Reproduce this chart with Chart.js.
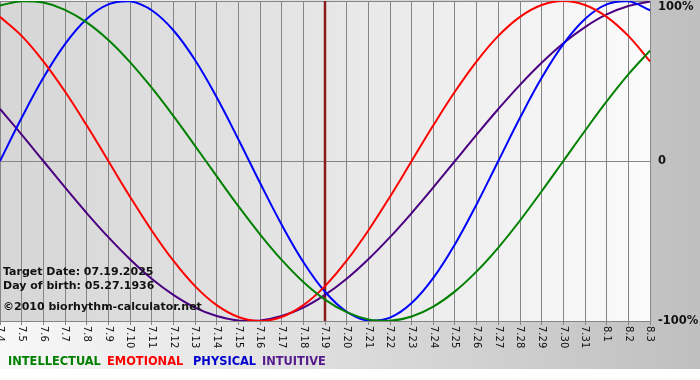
<!DOCTYPE html>
<html>
<head>
<meta charset="utf-8">
<script src="https://cdn.jsdelivr.net/npm/chart.js@4/dist/chart.umd.min.js"></script>
<style>
  html, body { margin: 0; padding: 0; background: #ffffff; }
  #wrap { width: 700px; height: 380px; position: relative; }
</style>
</head>
<body>
<div id="wrap"><canvas id="c" width="700" height="380"></canvas></div>
<script>
// ---- data ----
const dayLabels = ["7.4","7.5","7.6","7.7","7.8","7.9","7.10","7.11","7.12","7.13","7.14","7.15","7.16","7.17","7.18","7.19","7.20","7.21","7.22","7.23","7.24","7.25","7.26","7.27","7.28","7.29","7.30","7.31","8.1","8.2","8.3"];
const intellectual = [97.2, 99.9, 99.0, 94.5, 86.6, 75.6, 61.8, 45.8, 28.2, 9.5, -9.5, -28.2, -45.8, -61.8, -75.6, -86.6, -94.5, -99.0, -99.9, -97.2, -91.0, -81.5, -69.0, -54.1, -37.2, -18.9, 0, 18.9, 37.2, 54.1, 69.0];
const emotional = [90.1, 78.2, 62.3, 43.4, 22.3, 0, -22.3, -43.4, -62.3, -78.2, -90.1, -97.5, -100, -97.5, -90.1, -78.2, -62.3, -43.4, -22.3, 0, 22.3, 43.4, 62.3, 78.2, 90.1, 97.5, 100, 97.5, 90.1, 78.2, 62.3];
const physical = [0, 27.0, 52.0, 73.1, 88.8, 97.9, 99.8, 94.2, 81.7, 63.1, 39.8, 13.6, -13.6, -39.8, -63.1, -81.7, -94.2, -99.8, -97.9, -88.8, -73.1, -52.0, -27.0, 0, 27.0, 52.0, 73.1, 88.8, 97.9, 99.8, 94.2];
const intuitive = [32.5, 16.5, 0, -16.5, -32.5, -47.6, -61.4, -73.6, -83.7, -91.6, -96.9, -99.7, -99.7, -96.9, -91.6, -83.7, -73.6, -61.4, -47.6, -32.5, -16.5, 0, 16.5, 32.5, 47.6, 61.4, 73.6, 83.7, 91.6, 96.9, 99.7];
const seriesNames = ["INTELLECTUAL", "EMOTIONAL", "PHYSICAL", "INTUITIVE"];
const yTickValues = [100, 0, -100];
const yTickLabels = ["100%", "0", "-100%"];
const targetLabel = "7.19";
const infoLines = ["Target Date: 07.19.2025", "Day of birth: 05.27.1936", "\u00A92010 biorhythm-calculator.net"];

const colors = ["#008000", "#ff0000", "#0000ff", "#4b0082"];
const legendColors = ["#008000", "#ff0000", "#0000cc", "#551a8b"];
const legendX = [8, 107, 193, 262];

const bgPlugin = {
  id: 'bg',
  beforeDraw(chart) {
    const ctx = chart.ctx, a = chart.chartArea;
    ctx.save();
    ctx.fillStyle = '#ffffff';
    ctx.fillRect(0, 0, chart.width, chart.height);
    let g = ctx.createLinearGradient(0, 0, chart.width, 0);
    g.addColorStop(0, '#f8f8f8');
    g.addColorStop(1, '#bfbfbf');
    ctx.fillStyle = g;
    ctx.fillRect(0, 0, chart.width, 369);
    g = ctx.createLinearGradient(a.left, 0, a.right, 0);
    g.addColorStop(0, '#d6d6d6');
    g.addColorStop(0.5, '#e6e6e6');
    g.addColorStop(1, '#fbfbfb');
    ctx.fillStyle = g;
    ctx.fillRect(a.left, a.top, a.right - a.left, a.bottom - a.top);
    ctx.restore();
  },
  beforeDatasetsDraw(chart) {
    const ctx = chart.ctx, a = chart.chartArea, xs = chart.scales.x;
    const idx = dayLabels.indexOf(targetLabel);
    const x = xs.getPixelForValue(idx);
    ctx.save();
    ctx.strokeStyle = '#8b1a1a';
    ctx.lineWidth = 2.5;
    ctx.beginPath();
    ctx.moveTo(x, a.top);
    ctx.lineTo(x, a.bottom);
    ctx.stroke();
    ctx.restore();
  },
  afterDraw(chart) {
    const ctx = chart.ctx, a = chart.chartArea, xs = chart.scales.x, ys = chart.scales.y;
    ctx.save();
    // x tick labels, rotated clockwise
    ctx.fillStyle = '#111';
    ctx.font = '10px "DejaVu Sans", Verdana, sans-serif';
    ctx.textAlign = 'left';
    ctx.textBaseline = 'middle';
    dayLabels.forEach((lab, i) => {
      const x = xs.getPixelForValue(i);
      ctx.save();
      ctx.translate(x, a.bottom + 5);
      ctx.rotate(Math.PI / 2);
      ctx.fillText(lab, 0, 0);
      ctx.restore();
    });
    // right axis labels
    ctx.font = 'bold 11.5px "DejaVu Sans", Verdana, sans-serif';
    ctx.fillStyle = '#111';
    yTickValues.forEach((v, i) => {
      let y = ys.getPixelForValue(v);
      if (y < 7) y = 7;
      ctx.fillText(yTickLabels[i], a.right + 8, y);
    });
    // info text
    ctx.font = 'bold 11px "DejaVu Sans", Verdana, sans-serif';
    ctx.fillText(infoLines[0], 3, 272);
    ctx.fillText(infoLines[1], 3, 286);
    ctx.fillText(infoLines[2], 3, 307);
    // legend
    ctx.font = 'bold 12.7px "DejaVu Sans Condensed", "Liberation Sans Narrow", "Liberation Sans", sans-serif';
    chart.data.datasets.forEach((ds, i) => {
      ctx.fillStyle = legendColors[i];
      ctx.fillText(ds.label, legendX[i], 362);
    });
    ctx.restore();
  }
};

new Chart(document.getElementById('c'), {
  type: 'line',
  data: {
    labels: dayLabels,
    datasets: [intellectual, emotional, physical, intuitive].map((d, i) => ({
      label: seriesNames[i],
      data: d,
      borderColor: colors[i],
      backgroundColor: colors[i],
      borderWidth: 2,
      pointRadius: 0,
      tension: 0.4,
      fill: false
    }))
  },
  options: {
    responsive: false,
    animation: false,
    devicePixelRatio: 1,
    layout: { padding: { left: 0, top: 1, right: 50, bottom: 55 } },
    plugins: { legend: { display: false }, tooltip: { enabled: false } },
    scales: {
      x: {
        type: 'category',
        offset: false,
        ticks: { display: false },
        grid: { color: '#858585', lineWidth: 1, drawTicks: true, tickLength: 4, tickColor: '#858585' },
        border: { display: false }
      },
      y: {
        position: 'right',
        min: -100,
        max: 100,
        ticks: { display: false, stepSize: 100 },
        grid: { color: '#858585', lineWidth: 1, drawTicks: false },
        border: { display: false }
      }
    }
  },
  plugins: [bgPlugin]
});
</script>
</body>
</html>
